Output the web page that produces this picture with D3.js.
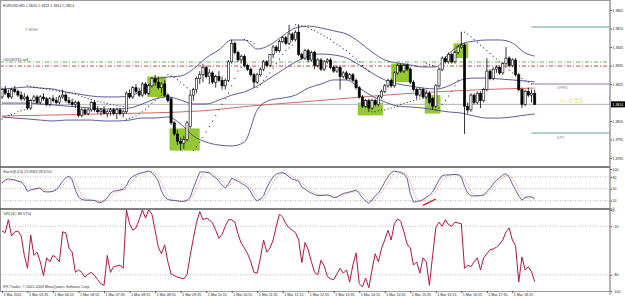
<!DOCTYPE html>
<html>
<head>
<meta charset="utf-8">
<script src="https://cdn.jsdelivr.net/npm/d3@7"></script>
<style>
  body { margin: 0; background: #fff; }
  text { font-family: "Liberation Sans", Arial, sans-serif; }
</style>
</head>
<body>
<svg id="chart" width="625" height="298"></svg>
<script>
// ---- data (prices in pips, 13814 = 1.3814) ----
const timeLabels = ['1 Mar 2011', '1 Mar 05:35', '1 Mar 06:15', '1 Mar 06:55', '1 Mar 07:35',
  '1 Mar 08:15', '1 Mar 08:55', '1 Mar 09:35', '1 Mar 10:15', '1 Mar 10:55', '1 Mar 11:35',
  '1 Mar 12:15', '1 Mar 12:55', '1 Mar 13:35', '1 Mar 14:15', '1 Mar 14:55', '1 Mar 15:35',
  '1 Mar 16:15', '1 Mar 16:55', '1 Mar 17:35', '1 Mar 18:15'];

const opens = [13818,13822,13820,13818,13822,13821,13819,13817,13818,13812,13816,13818,13815,13818,13817,13814,13817,13816,13815,13818,
  13819,13816,13815,13814,13815,13808,13811,13809,13811,13815,13811,13810,13811,13809,13810,13811,13809,13811,13809,13810,
  13820,13818,13823,13821,13819,13825,13820,13824,13828,13826,13823,13825,13819,13817,13804,13798,13794,13793,13795,13802,
  13819,13822,13828,13830,13834,13829,13831,13826,13829,13827,13824,13827,13837,13847,13842,13838,13840,13835,13833,13830,
  13826,13830,13833,13837,13835,13841,13845,13843,13848,13850,13847,13852,13849,13853,13841,13839,13843,13838,13842,13835,
  13838,13833,13837,13838,13834,13832,13834,13829,13831,13828,13830,13827,13823,13818,13813,13816,13812,13816,13814,13818,
  13821,13824,13827,13824,13831,13835,13832,13835,13833,13826,13822,13819,13822,13818,13820,13817,13813,13824,13833,13839,
  13837,13841,13837,13842,13845,13846,13813,13811,13819,13815,13820,13816,13822,13832,13828,13833,13834,13831,13836,13839,
  13835,13838,13830,13822,13814,13821,13819,13820];
const highs = [13823,13824,13822,13823,13824,13822,13821,13820,13819,13817,13819,13819,13819,13820,13818,13818,13819,13818,13819,13822,
  13820,13818,13817,13816,13816,13812,13812,13812,13816,13816,13813,13812,13813,13811,13812,13812,13812,13812,13811,13821,
  13822,13824,13825,13823,13826,13826,13825,13829,13830,13829,13826,13827,13820,13818,13805,13800,13796,13797,13805,13821,
  13823,13829,13832,13836,13835,13833,13832,13830,13832,13829,13828,13838,13849,13848,13843,13841,13841,13836,13834,13831,
  13831,13834,13838,13838,13841,13846,13846,13849,13851,13851,13857,13853,13854,13857,13842,13844,13844,13843,13843,13839,
  13839,13838,13839,13839,13835,13835,13835,13832,13832,13831,13831,13828,13824,13819,13817,13817,13817,13817,13819,13822,
  13825,13828,13828,13832,13836,13836,13836,13836,13834,13827,13823,13823,13823,13822,13821,13818,13825,13834,13840,13840,
  13842,13842,13843,13846,13853,13847,13815,13820,13820,13821,13821,13823,13839,13833,13834,13835,13835,13837,13845,13840,
  13839,13839,13831,13823,13822,13823,13822,13822];
const lows = [13817,13819,13817,13817,13820,13818,13816,13816,13811,13811,13815,13814,13814,13816,13813,13813,13815,13814,13814,13817,
  13815,13814,13813,13812,13807,13807,13808,13808,13810,13810,13809,13808,13809,13807,13808,13808,13806,13808,13807,13809,
  13817,13817,13820,13818,13818,13819,13819,13823,13824,13822,13820,13818,13815,13803,13797,13792,13789,13790,13794,13801,
  13816,13820,13825,13826,13828,13825,13825,13823,13826,13822,13822,13826,13836,13841,13837,13836,13834,13832,13829,13823,
  13825,13829,13832,13834,13834,13839,13842,13842,13847,13846,13846,13848,13848,13840,13838,13838,13837,13837,13833,13834,
  13832,13832,13836,13833,13831,13831,13822,13828,13827,13827,13826,13822,13817,13812,13812,13810,13811,13813,13813,13817,
  13820,13823,13823,13823,13830,13831,13831,13832,13825,13821,13817,13818,13817,13817,13814,13811,13812,13823,13832,13836,
  13836,13836,13836,13841,13844,13798,13809,13810,13814,13814,13812,13815,13821,13827,13827,13831,13830,13830,13835,13834,
  13834,13829,13821,13812,13813,13818,13815,13814];
const closes = [13822,13820,13818,13822,13821,13819,13817,13818,13812,13816,13818,13815,13818,13817,13814,13817,13816,13815,13818,13819,
  13816,13815,13814,13815,13808,13811,13809,13811,13815,13811,13810,13811,13809,13810,13811,13809,13811,13809,13810,13820,
  13818,13823,13821,13819,13825,13820,13824,13828,13826,13823,13825,13819,13816,13804,13798,13794,13793,13795,13804,13819,
  13822,13828,13830,13834,13829,13831,13826,13829,13827,13824,13827,13837,13847,13842,13838,13840,13835,13833,13830,13826,
  13830,13833,13837,13835,13841,13845,13843,13848,13850,13847,13852,13849,13853,13841,13839,13843,13838,13842,13835,13838,
  13833,13837,13838,13834,13832,13834,13829,13831,13828,13830,13827,13823,13818,13813,13816,13812,13816,13814,13818,13821,
  13824,13827,13824,13831,13835,13832,13835,13833,13826,13822,13819,13822,13818,13820,13815,13813,13824,13833,13839,13837,
  13841,13837,13842,13845,13846,13813,13811,13819,13815,13820,13816,13822,13832,13828,13833,13834,13831,13836,13839,13835,
  13838,13830,13822,13814,13821,13819,13820,13814];

// Bollinger bands, read every 4 bars
const bandBars = [0,4,8,12,16,20,24,28,32,36,40,44,48,52,56,60,64,68,72,76,80,84,88,92,96,100,104,108,112,116,120,124,128,132,136,140,144,148,152,156,160,164,167];
const bandUpper = [13822.3,13822.8,13823.4,13822.8,13822.3,13820.7,13819.6,13818.5,13818,13818,13818.5,13821.8,13827.2,13828.8,13829.3,13833.1,13839.1,13843.4,13848.8,13848.8,13843.9,13846.1,13851,13855.3,13856.3,13855.3,13853.7,13852,13847.7,13842.3,13838,13836.3,13835.3,13834.2,13834.2,13841.2,13846.6,13848.2,13848.8,13848.8,13847.2,13841.8,13840.1];
const bandMiddle = [13814.7,13814.7,13814.7,13814.2,13813.7,13813.1,13812.6,13812,13811.5,13811.5,13812,13814.2,13816.9,13818,13816.3,13814.2,13814.2,13816.3,13819,13820.7,13823.9,13828.2,13832.6,13836.9,13840.1,13841.2,13840.7,13839.1,13835.3,13830.9,13827.2,13825,13823.9,13822.8,13822.3,13823.9,13827.2,13828.2,13828.2,13827.7,13827.2,13826.6,13826.1];
const bandLower = [13807.2,13806.6,13806.1,13805.5,13805,13805.5,13805.5,13805.5,13805,13805,13805.5,13806.6,13806.6,13807.2,13803.4,13796.9,13793.6,13792,13791.5,13793.6,13810.9,13816.3,13817.4,13819,13822.8,13825,13827.2,13827.2,13822.8,13818.5,13815.3,13813.1,13812.6,13812,13810.9,13809.9,13809.3,13807.7,13806.6,13806.6,13807.2,13808.2,13808.8];

// long moving average (red)
const maBars = [0, 31, 62, 78, 94, 109, 125, 141, 156, 167];
const maValues = [13807.7, 13808.8, 13810.4, 13813.1, 13815.3, 13817.4, 13819.6, 13821.2, 13822.3, 13822.8];

// parabolic SAR, one dot per bar
const sarValues = [13806,13807,13808,13808.5,13809,13810,13810.5,13811,
  13824,13823.7,13823.4,13823.1,13822.8,13822.5,13822.2,13821.9,13821.6,13821.3,13821,13820.7,13820.4,13820.1,13819.8,13819.5,
  13819,13818.3,13817.7,13817.1,13816.6,13816.1,13815.6,13815.2,13814.8,13814.4,13814,13813.7,13813.4,13813.1,13812.8,
  13806,13806.4,13807,13807.8,13808.8,13810,13811.4,13813,13814.6,13816.2,13817.6,13818.8,13819.8,
  13830,13829.3,13828.5,13827.3,13826,13824.5,13823,13821.5,
  13789,13791,13793.5,13796,13799,13802,13805,13808,13811,13814,13817,13820,13824,13828,13832,13834,
  13849,13848.5,13848,13847,
  13823,13824.5,13827,13829,13831,13833.5,13836,13838.5,13841,13843,13844.5,13846,
  13857,13857,13856.5,13856,13855.5,13854.5,13854,13853,13852,13851,13850,13849,13847.5,13846.5,13845.5,13844,13843,13841.5,13840,13838.5,13837,13835,13833.5,13832,
  13810,13810,13810.5,13811,13811,13811.5,13812,13812.5,13813,13814,13814.5,13815,13815.5,13816,13816.5,13817,13817.5,
  13836,13835.5,13835,
  13811,13812,13814,13816,13818.5,13821,13824,13827,
  13853,13853,13852,13850.5,13849,13847.5,13846,13844.5,13843,13841.5,13840,13838.5,13837,13835.5,13834,13832.5,13831,13830,13829,13828,13827,13826,13825];

// Stochastic (8,3,3)
const stochMain = [64,72,75,73,72,69,67,59,43,47,49,51,52,43,42,42,44,48,57,69,
  78,82,72,47,29,23,21,21,21,20,16,15,20,27,39,44,45,47,49,57,
  74,81,85,89,91,93,95,91,82,69,44,29,23,21,20,19,18,18,21,28,
  52,72,92,93,92,90,83,78,69,59,51,62,77,73,69,64,59,54,42,27,
  19,24,32,52,68,80,87,90,91,87,80,74,72,69,54,49,43,39,35,33,
  33,34,34,32,27,29,34,38,40,42,44,47,39,27,19,13,21,32,39,52,
  67,80,91,95,93,91,87,77,38,16,18,19,23,28,34,42,57,72,83,85,
  85,86,86,85,80,56,39,32,32,32,33,34,43,51,62,71,78,85,88,80,
  62,47,32,21,28,30,29,23.96];
const stochSignal = [66,68,70,73,73,71,69,65,56,50,46,49,51,49,46,42,43,45,50,58,
  68,76,77,67,49,33,24,22,21,21,19,17,17,21,29,37,43,45,47,51,
  60,71,80,85,88,91,93,93,89,81,65,47,32,24,21,20,19,18,19,22,
  34,51,72,86,92,92,88,84,77,69,60,57,63,71,73,69,64,59,52,41,
  29,23,25,36,51,67,78,86,89,89,86,80,75,72,65,57,49,44,39,36,
  34,33,34,33,31,29,30,34,37,40,42,44,43,38,28,20,18,22,31,41,
  53,66,79,89,93,93,90,85,67,44,24,18,20,23,28,35,44,57,71,80,
  84,85,86,86,84,74,58,42,34,32,32,33,37,43,52,61,70,78,84,84,
  77,63,47,33,27,26,29,28.62];

// Williams %R (14)
const wprValues = [-26,-28,-12,-32,-27,-26,-32,-56,-72,-31,-56,-52,-64,-81,-59,-64,-56,-59,-64,-27,
  -28,-47,-52,-77,-74,-77,-83,-79,-77,-81,-86,-91,-93,-56,-77,-70,-69,-68,-72,0,
  -17,-25,-22,-12,0,-10,0,-5,-25,-46,-54,-43,-64,-79,-81,-83,-84,-85,-80,-56,
  -35,-15,-2,-12,-10,-12,-16,-25,-35,-30,-20,-12,-12,-15,-30,-41,-47,-54,-64,-77,
  -78,-59,-37,-52,-47,-37,-20,-5,-9,-17,-22,-25,-28,-37,-65,-40,-49,-64,-77,-80,
  -62,-69,-82,-85,-86,-79,-72,-78,-74,-89,-68,-53,-91,-95,-84,-96,-74,-54,-64,-47,
  -37,-25,-37,-17,-11,-14,-27,-42,-47,-68,-64,-78,-59,-64,-93,-56,-22,-15,-20,-12,
  -18,-20,-15,-16,-17,-72,-68,-70,-64,-59,-74,-59,-54,-49,-48,-46,-42,-37,-27,-22,
  -37,-44,-89,-58,-74,-70,-76,-88.57];

// marked zones: [first bar, last bar, top price, bottom price]
const zones = [[46, 51, 13829, 13818], [53, 61.5, 13801, 13789], [112, 119, 13815, 13808],
  [122.5, 127.3, 13836, 13826], [133, 137, 13819, 13809], [142, 145.7, 13847, 13839]];

const priceTicks = [13785, 13795, 13805, 13825, 13835, 13845, 13855, 13865];
const orderPrice = 13834.7;   // sell order
const stopPrice = 13836.9;    // green level
const yHigh = 13855.8;
const dayOpen = 13825;
const dpv = 13798.5;
const bid = 13814;

// ---- layout ----
const svg = d3.select('#chart');
const axisX = 610;
const mainTop = 1, mainBottom = 167, stochBottom = 209, wprBottom = 291;
const labelFont = '3.5px';

const x = d3.scaleLinear().domain([0, 167]).range([2, 534.7]);
const y = d3.scaleLinear().domain([13815, 13865]).range([102.5, 10]);
const yStoch = d3.scaleLinear().domain([0, 100]).range([208.5, 169]);
const yWpr = d3.scaleLinear().domain([-100, 0]).range([291, 210]);

svg.append('defs').append('clipPath').attr('id', 'mainClip')
  .append('rect').attr('x', 0).attr('y', mainTop).attr('width', axisX).attr('height', mainBottom - mainTop);

const main = svg.append('g').attr('clip-path', 'url(#mainClip)');

// green zones
main.selectAll('.zone')
  .data(zones)
  .enter()
  .append('rect')
  .attr('x', (d) => x(d[0]) - 1.5)
  .attr('y', (d) => y(d[2]))
  .attr('width', (d) => x(d[1]) - x(d[0]) + 3)
  .attr('height', (d) => y(d[3]) - y(d[2]))
  .style('fill', '#96c832');

// horizontal levels across the chart
function hLine(price, x1, color, dash, width) {
  main.append('line')
    .attr('x1', x1).attr('x2', axisX)
    .attr('y1', y(price)).attr('y2', y(price))
    .attr('stroke', color)
    .attr('stroke-width', width || 1)
    .attr('stroke-dasharray', dash || null);
}
hLine(stopPrice, 0, '#5cb85c', '4,2,1,2');
hLine(orderPrice, 0, '#c84040', '4,2,1,2');
hLine(bid, 0, '#b4b4b4');
hLine(yHigh, x(166), '#5f9ea0');
hLine(dayOpen, x(166), '#a070a0');
hLine(dpv, x(166), '#5f9ea0');

// moving average
main.append('path')
  .datum(maBars.map((b, i) => [b, maValues[i]]))
  .attr('fill', 'none')
  .attr('stroke', '#d06a6a')
  .attr('stroke-width', 1)
  .attr('d', d3.line().x((d) => x(d[0])).y((d) => y(d[1])).curve(d3.curveMonotoneX));

// Bollinger bands
[bandUpper, bandMiddle, bandLower].forEach((band) => {
  main.append('path')
    .datum(bandBars.map((b, i) => [b, band[i]]))
    .attr('fill', 'none')
    .attr('stroke', '#4a4a8a')
    .attr('stroke-width', 0.9)
    .attr('d', d3.line().x((d) => x(d[0])).y((d) => y(d[1])).curve(d3.curveMonotoneX));
});

// parabolic SAR
main.selectAll('.sar')
  .data(sarValues)
  .enter()
  .append('rect')
  .attr('x', (d, i) => x(i) - 0.5)
  .attr('y', (d) => y(d) - 0.5)
  .attr('width', 1)
  .attr('height', 1)
  .style('fill', '#222');

// candles
const bars = d3.range(opens.length);
main.selectAll('.wick')
  .data(bars)
  .enter()
  .append('line')
  .attr('x1', (i) => x(i)).attr('x2', (i) => x(i))
  .attr('y1', (i) => y(highs[i])).attr('y2', (i) => y(lows[i]))
  .attr('stroke', '#000')
  .attr('stroke-width', 0.8);
main.selectAll('.body')
  .data(bars)
  .enter()
  .append('rect')
  .attr('x', (i) => x(i) - 1.1)
  .attr('y', (i) => y(Math.max(opens[i], closes[i])))
  .attr('width', 2.2)
  .attr('height', (i) => Math.max(0.8, Math.abs(y(opens[i]) - y(closes[i]))))
  .style('fill', (i) => (closes[i] >= opens[i] ? '#fff' : '#000'))
  .attr('stroke', '#000')
  .attr('stroke-width', 0.6);

// texts in main panel
const small = (sel) => sel.style('font-size', '3.7px').style('fill', '#333');
small(svg.append('text').attr('x', 3).attr('y', 7).text('EURUSD,M5  1.3820 1.3822 1.3814 1.3814'));
small(svg.append('text').attr('x', 25).attr('y', 31).text('Y HIGH')).style('fill', '#777');
small(svg.append('text').attr('x', 3).attr('y', 61).text('#50230741 sell'));
small(svg.append('text').attr('x', 557).attr('y', 89).text('OPEN')).style('fill', '#888');
small(svg.append('text').attr('x', 557).attr('y', 139).text('DPV')).style('fill', '#888');
svg.append('text').attr('x', 560).attr('y', 103)
  .style('font-size', '7px').style('fill', '#e6e060').text('<--0:53');

// stochastic panel
const stochLevels = [20, 50, 80];
svg.selectAll('.stochLevel')
  .data(stochLevels)
  .enter()
  .append('line')
  .attr('x1', 0).attr('x2', axisX)
  .attr('y1', (d) => yStoch(d)).attr('y2', (d) => yStoch(d))
  .attr('stroke', '#888').attr('stroke-width', 0.6).attr('stroke-dasharray', '1,1.5');

svg.append('path')
  .datum(stochSignal)
  .attr('fill', 'none')
  .attr('stroke', '#e07a7a')
  .attr('stroke-width', 0.8)
  .attr('stroke-dasharray', '1,1')
  .attr('d', d3.line().x((d, i) => x(i)).y((d) => yStoch(d)));
svg.append('path')
  .datum(stochMain)
  .attr('fill', 'none')
  .attr('stroke', '#3c3c88')
  .attr('stroke-width', 0.8)
  .attr('d', d3.line().x((d, i) => x(i)).y((d) => yStoch(d)));

// trend line drawn on stochastic
const stochMark = [[132, 8], [136, 24]];
svg.append('line')
  .attr('x1', x(stochMark[0][0])).attr('y1', yStoch(stochMark[0][1]))
  .attr('x2', x(stochMark[1][0])).attr('y2', yStoch(stochMark[1][1]))
  .attr('stroke', '#d01010').attr('stroke-width', 1.2);

small(svg.append('text').attr('x', 3).attr('y', 173).text('Stoch(8,3,3) 23.9583 28.6210'));

// Williams %R panel
const wprLevels = [-20, -80];
svg.selectAll('.wprLevel')
  .data(wprLevels)
  .enter()
  .append('line')
  .attr('x1', 0).attr('x2', axisX)
  .attr('y1', (d) => yWpr(d)).attr('y2', (d) => yWpr(d))
  .attr('stroke', '#888').attr('stroke-width', 0.6).attr('stroke-dasharray', '1,1.5');

svg.append('path')
  .datum(wprValues)
  .attr('fill', 'none')
  .attr('stroke', '#b8143c')
  .attr('stroke-width', 1)
  .attr('d', d3.line().x((d, i) => x(i)).y((d) => yWpr(d)));

small(svg.append('text').attr('x', 3).attr('y', 215).text('%R(14) -88.5714'));
small(svg.append('text').attr('x', 3).attr('y', 288).text('IFX Trader, \u00a9 2001-2009 MetaQuotes Software Corp.'));

// frames
svg.append('rect').attr('x', 0.5).attr('y', 0.5).attr('width', axisX - 0.5).attr('height', wprBottom)
  .attr('fill', 'none').attr('stroke', '#9a9a9a').attr('stroke-width', 1);
[mainBottom, stochBottom].forEach((yy) => {
  svg.append('line').attr('x1', 0).attr('x2', axisX).attr('y1', yy).attr('y2', yy)
    .attr('stroke', '#555').attr('stroke-width', 1.5);
});

// right axes
const priceAxis = d3.axisRight(y).tickValues(priceTicks).tickSize(2)
  .tickFormat((d) => (d / 10000).toFixed(4));
const stochAxis = d3.axisRight(yStoch).tickValues([0, 20, 50, 80, 100]).tickSize(2);
const wprAxis = d3.axisRight(yWpr).tickValues([-100, -80, -20, 0]).tickSize(2);
[priceAxis, stochAxis, wprAxis].forEach((ax) => {
  const g = svg.append('g').attr('transform', 'translate(' + axisX + ',0)').call(ax);
  g.select('.domain').remove();
  g.selectAll('line').attr('stroke', '#555');
  g.selectAll('text').attr('x', 2.5).style('font-size', labelFont).style('fill', '#222')
    .style('font-family', '"Liberation Sans", Arial, sans-serif');
});
svg.append('line').attr('x1', axisX).attr('x2', axisX).attr('y1', 0).attr('y2', wprBottom + 4)
  .attr('stroke', '#9a9a9a');

// bid box
svg.append('rect').attr('x', axisX + 1).attr('y', y(bid) - 3).attr('width', 14).attr('height', 6).attr('fill', '#000');
svg.append('text').attr('x', axisX + 2.5).attr('y', y(bid) + 1.3)
  .style('font-size', labelFont).style('fill', '#fff').text((bid / 10000).toFixed(4));

// time axis
const timeAxis = d3.axisBottom(x)
  .tickValues(d3.range(0, 161, 8))
  .tickSize(2)
  .tickFormat((d, i) => timeLabels[i]);
const tg = svg.append('g').attr('transform', 'translate(0,' + wprBottom + ')').call(timeAxis);
tg.select('.domain').remove();
tg.selectAll('line').attr('stroke', '#555');
tg.selectAll('text').attr('text-anchor', 'start').attr('x', 1).attr('y', 2.5)
  .style('font-size', '3.6px').style('fill', '#222')
  .style('font-family', '"Liberation Sans", Arial, sans-serif');
</script>
</body>
</html>
